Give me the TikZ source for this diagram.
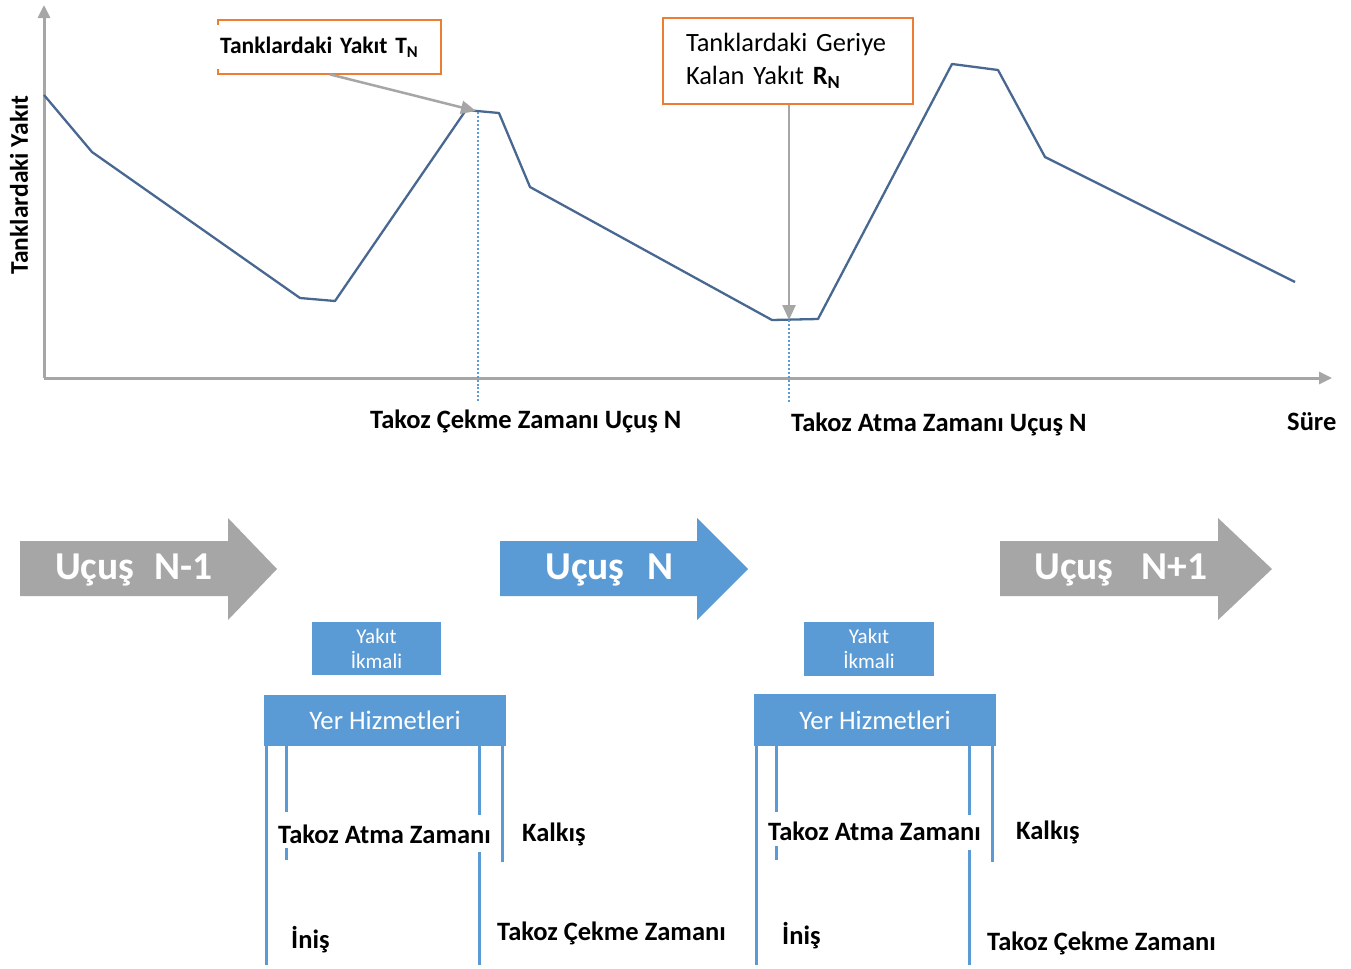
\documentclass[tikz,border=0pt]{standalone}
\usepackage{fontspec}
\setmainfont{Carlito}
\usetikzlibrary{arrows.meta}
\definecolor{axisgray}{RGB}{166,166,166}
\definecolor{fuel}{RGB}{72,104,145}
\definecolor{office}{RGB}{91,155,213}
\definecolor{boxorange}{RGB}{237,125,49}
\newcommand{\fs}[1]{\fontsize{#1bp}{#1bp}\selectfont}
\tikzset{
  axis/.style={draw=axisgray, line width=3bp, -{Triangle[length=13bp,width=12bp]}},
  pointer/.style={draw=axisgray, line width=2.5bp, -{Triangle[length=15bp,width=13bp]}},
  guide/.style={draw=office, line width=2bp, dotted},
  fuelline/.style={draw=fuel, line width=2.3bp, line join=round},
  lbl/.style={font=\fs{26.5}\bfseries, inner sep=0pt},
  tick/.style={draw=office, line width=3bp},
  flight/.style={font=\fs{39.5}\bfseries, text=white, inner sep=0pt, anchor=west},
  bluebox/.style={fill=office, text=white, inner sep=0pt, align=center},
}
\begin{document}
\begin{tikzpicture}[x=1bp, y=-1bp]
\useasboundingbox (0,0) rectangle (1351,968);

% axes
\coordinate (origin) at (44,378);
\coordinate (ytop) at (44,5);
\coordinate (xend) at (1332,378);
\draw[axis] (origin) -- (ytop);
\draw[axis] (origin) -- (xend);
\node[lbl, font=\fs{25.5}\bfseries, rotate=90] (ylab) at (19,185) {Tanklardaki Yakıt};
\node[lbl, anchor=west] (sure) at (1287,422) {Süre};

% fuel curve
\draw[fuelline] (44,95) -- (92,152) -- (300,298) -- (335,301) -- (466,110) -- (499,113)
  -- (530,187) -- (772,320) -- (818,319) -- (952,64) -- (998,70) -- (1045,157) -- (1295,282);

% time markers
\coordinate (blockoff) at (478,112);
\coordinate (blockon) at (789,320);
\node[lbl, anchor=west] (offlab) at (370,421) {Takoz Çekme Zamanı Uçuş N};
\node[lbl, anchor=west] (onlab) at (791,424) {Takoz Atma Zamanı Uçuş N};
\draw[guide] (blockoff) -- (blockoff |- 0,402);
\draw[guide] (blockon) -- (blockon |- 0,402);

% callouts
\node[anchor=north west, minimum height=54bp, text width=219bp, inner xsep=2bp, inner ysep=0pt,
      align=left, font=\fs{23.5}\bfseries] (tn) at (218,20) {Tanklardaki Yakıt T\textsubscript{N}};
\draw[boxorange, line width=2bp] ([yshift=-5bp]tn.north west) -- (tn.north west) -- (tn.north east)
  -- (tn.south east) -- (tn.south west) -- ([yshift=5bp]tn.south west);
\coordinate (tnhit) at (476,111);
\draw[pointer] (tn.south west -| 330,0) -- (tnhit);

\node[draw=boxorange, line width=2bp, anchor=north west, minimum height=86bp, text width=204bp,
      inner xsep=23bp, inner ysep=0pt, align=left, font=\fs{26.4}\linespread{1.25}\selectfont] (rn) at (662,17)
      {Tanklardaki Geriye\\Kalan Yakıt \textbf{R\textsubscript{N}}};
\draw[pointer] (rn.south -| blockon) -- (blockon);

% flights
\fill[axisgray] (20,541) -- (228,541) -- (228,518) -- (277,569) -- (228,620) -- (228,596) -- (20,596) -- cycle;
\node[flight] (f1) at (55,570) {Uçuş\hspace{20bp}N-1};
\fill[office] (500,541) -- (697,541) -- (697,518) -- (748,569) -- (697,620) -- (697,596) -- (500,596) -- cycle;
\node[flight] (f2) at (545,570) {Uçuş\hspace{23bp}N};
\fill[axisgray] (1000,541) -- (1218,541) -- (1218,518) -- (1272,569) -- (1218,620) -- (1218,596) -- (1000,596) -- cycle;
\node[flight] (f3) at (1034,570) {Uçuş\hspace{28bp}N+1};

% ground turnaround, flight N-1 to N
\node[bluebox, minimum width=129bp, minimum height=53bp, font=\fs{21}\linespread{1.2}\selectfont] (fuel1) at (376.5,648.5) {Yakıt\\İkmali};
\node[bluebox, minimum width=242bp, minimum height=51bp, font=\fs{26.7}] (gs1) at (385,720.5) {Yer Hizmetleri};
\draw[tick] (266,746) -- (266,965);
\draw[tick] (286,746) -- (286,812);
\draw[tick] (286,848) -- (286,860);
\draw[tick] (479,746) -- (479,815);
\draw[tick] (479,852) -- (479,965);
\draw[tick] (502,746) -- (502,862);
\node[lbl, anchor=west] (on1) at (278,834) {Takoz Atma Zamanı};
\node[lbl, anchor=west] (to1) at (522,834) {Kalkış};
\node[lbl, anchor=west] (ld1) at (291,940) {İniş};
\node[lbl, anchor=west] (off1) at (497,933) {Takoz Çekme Zamanı};

% ground turnaround, flight N to N+1
\node[bluebox, minimum width=130bp, minimum height=54bp, font=\fs{21}\linespread{1.2}\selectfont] (fuel2) at (869,649) {Yakıt\\İkmali};
\node[bluebox, minimum width=242bp, minimum height=52bp, font=\fs{26.7}] (gs2) at (875,720) {Yer Hizmetleri};
\draw[tick] (756,746) -- (756,965);
\draw[tick] (776,746) -- (776,812);
\draw[tick] (776,846) -- (776,860);
\draw[tick] (969,746) -- (969,815);
\draw[tick] (969,850) -- (969,965);
\draw[tick] (992,746) -- (992,862);
\node[lbl, anchor=west] (on2) at (768,831) {Takoz Atma Zamanı};
\node[lbl, anchor=west] (to2) at (1016,832) {Kalkış};
\node[lbl, anchor=west] (ld2) at (782,936) {İniş};
\node[lbl, anchor=west] (off2) at (987,943) {Takoz Çekme Zamanı};
\end{tikzpicture}
\end{document}
